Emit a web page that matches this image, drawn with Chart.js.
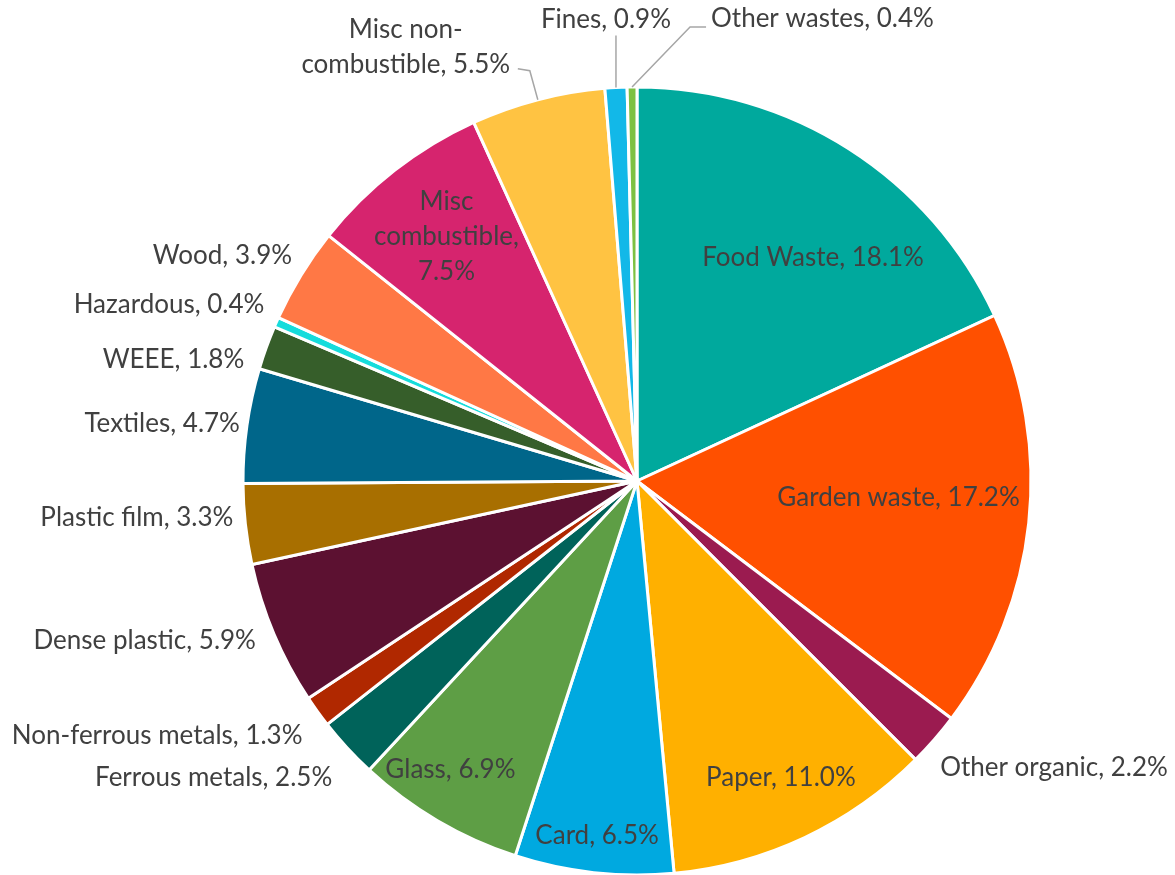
<!DOCTYPE html>
<html lang="en">
<head>
<meta charset="UTF-8">
<title>Waste composition</title>
<script src="https://cdn.jsdelivr.net/npm/chart.js"></script>
<style>
  html, body { margin: 0; padding: 0; background: #ffffff; }
  #wrap { width: 1175px; height: 875px; }
</style>
</head>
<body>
<div id="wrap"><canvas id="pie" width="1175" height="875"></canvas></div>
<script>
// waste categories, clockwise from 12 o'clock
const categories = [
  'Food Waste', 'Garden waste', 'Other organic', 'Paper', 'Card', 'Glass',
  'Ferrous metals', 'Non-ferrous metals', 'Dense plastic', 'Plastic film',
  'Textiles', 'WEEE', 'Hazardous', 'Wood', 'Misc combustible',
  'Misc non-combustible', 'Fines', 'Other wastes'
];
// share of total (%)
const shares = [18.1, 17.2, 2.2, 11.0, 6.5, 6.9, 2.5, 1.3, 5.9, 3.3, 4.7, 1.8, 0.4, 3.9, 7.5, 5.5, 0.9, 0.4];

const colours = [
  '#00a99d', '#ff5000', '#9b1b50', '#ffb000', '#00a9e0', '#5e9e45',
  '#00635a', '#b02800', '#5c1131', '#a86f00', '#00668a', '#365e2a',
  '#16dcdc', '#ff7845', '#d6246e', '#ffc342', '#12b8e8', '#7dc142'
];

// how each label is broken into lines
const labelLines = [
  null, null, null, null, null, null, null, null, null, null, null, null, null, null,
  ['Misc', 'combustible,', '{v}'],
  ['Misc non-', 'combustible, {v}'],
  null, null
];

// label placement: r = fraction of radius along mid angle, dx/dy nudge, align, optional leader
const place = [
  { r: 0.75, dx: 17, dy: 26, align: 'center' },
  { r: 0.66, dx: 3, dy: -11, align: 'center' },
  { r: 1, dx: 6, dy: 28, align: 'left' },
  { r: 0.84, dx: 3, dy: -3, align: 'center' },
  { r: 0.9, dx: -1, dy: 2, align: 'center' },
  { r: 0.87, dx: -13, dy: -7, align: 'center' },
  { r: 1, dx: -15, dy: 30, align: 'right' },
  { r: 1, dx: -15, dy: 24, align: 'right' },
  { r: 1, dx: -18, dy: 7, align: 'right' },
  { r: 1, dx: -12, dy: -7, align: 'right' },
  { r: 1, dx: -7, dy: -2, align: 'right' },
  { r: 1, dx: -22, dy: 12, align: 'right' },
  { r: 1, dx: -12, dy: -18, align: 'right' },
  { r: 1, dx: -9, dy: -20, align: 'right' },
  { r: 0.79, dx: 1, dy: -34, align: 'center' },
  { r: 1, dx: -132, dy: -70, align: 'center', leader: [[0, 0], [-8, -29], [-20, -31]] },
  { r: 1, dx: -10, dy: -68, align: 'center', leader: [[0, 0], [0, -52]] },
  { r: 1, dx: 79, dy: -68, align: 'left', leader: [[0, 0], [58, -60], [74, -60]] }
];

const pieLabels = {
  id: 'pieLabels',
  afterDatasetsDraw(chart) {
    const ctx = chart.ctx;
    const arcs = chart.getDatasetMeta(0).data;
    ctx.save();
    ctx.font = '26px Lato';
    ctx.fillStyle = '#404040';
    ctx.textBaseline = 'middle';
    arcs.forEach((arc, i) => {
      const p = place[i];
      const mid = (arc.startAngle + arc.endAngle) / 2;
      const R = arc.outerRadius;
      const ex = arc.x + Math.cos(mid) * R * p.r;
      const ey = arc.y + Math.sin(mid) * R * p.r;
      if (p.leader) {
        ctx.strokeStyle = '#a6a6a6';
        ctx.lineWidth = 1.5;
        ctx.beginPath();
        p.leader.forEach((pt, k) => {
          if (k === 0) ctx.moveTo(ex + pt[0], ey + pt[1]);
          else ctx.lineTo(ex + pt[0], ey + pt[1]);
        });
        ctx.stroke();
      }
      const val = shares[i].toFixed(1) + '%';
      const lines = labelLines[i] ? labelLines[i].map(s => s.replace('{v}', val)) : [categories[i] + ', ' + val];
      ctx.textAlign = p.align;
      lines.forEach((s, k) => {
        ctx.fillText(s, ex + p.dx, ey + p.dy + k * 35);
      });
    });
    ctx.restore();
  }
};

new Chart(document.getElementById('pie'), {
  type: 'pie',
  data: {
    labels: categories,
    datasets: [{
      data: shares,
      backgroundColor: colours,
      borderColor: '#ffffff',
      borderWidth: 3
    }]
  },
  options: {
    responsive: false,
    animation: false,
    radius: 394,
    layout: { padding: { left: 99, right: 0, top: 87, bottom: 0 } },
    plugins: {
      legend: { display: false },
      tooltip: { enabled: false }
    }
  },
  plugins: [pieLabels]
});
</script>
</body>
</html>
